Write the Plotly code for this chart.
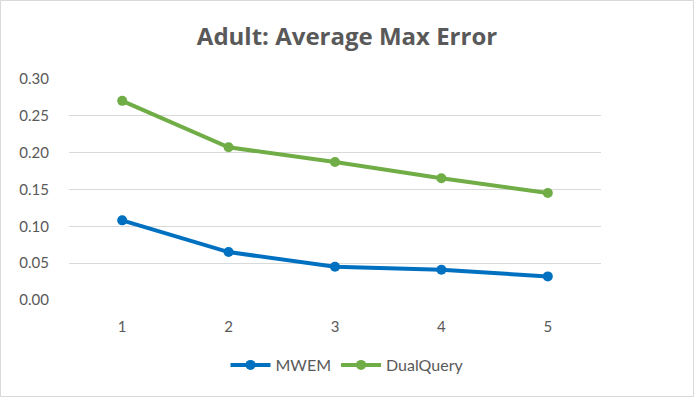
import plotly.graph_objects as go

x_labels = ["1", "2", "3", "4", "5"]
mwem = [0.108, 0.065, 0.045, 0.041, 0.032]
dualquery = [0.270, 0.207, 0.187, 0.165, 0.145]

FONT = "Lato, 'Open Sans', sans-serif"
GREY = "#595959"

W, H = 694, 397
L, R, T, B = 69, 93, 78, 97
PW, PH = W - L - R, H - T - B

fig = go.Figure()

fig.add_trace(go.Scatter(
    x=x_labels, y=mwem, name="MWEM",
    mode="lines+markers",
    line=dict(color="#0070C0", width=4),
    marker=dict(size=10, color="#0070C0"),
))
fig.add_trace(go.Scatter(
    x=x_labels, y=dualquery, name="DualQuery",
    mode="lines+markers",
    line=dict(color="#70AD47", width=4),
    marker=dict(size=10, color="#70AD47"),
))

fig.update_layout(
    width=W, height=H,
    paper_bgcolor="white", plot_bgcolor="white",
    margin=dict(l=L, r=R, t=T, b=B),
    font=dict(family=FONT, color=GREY, size=15),
    title=dict(text="<b>Adult: Average Max Error</b>", x=0.5, xanchor="center",
               xref="container", y=1 - 37 / H, yref="container", yanchor="middle",
               font=dict(size=24, color=GREY, family="'Open Sans', sans-serif")),
    xaxis=dict(type="category", range=[-0.5, 4.5], showgrid=False, showline=False,
               ticks="", tickfont=dict(size=15, color=GREY), zeroline=False,
               ticklabelstandoff=16),
    yaxis=dict(range=[0, 0.301], dtick=0.05, tickformat=".2f", showgrid=True,
               gridcolor="#D9D9D9", gridwidth=1, zeroline=False, showline=False,
               ticks="", ticklabelstandoff=19, tickfont=dict(size=15, color=GREY)),
    legend=dict(orientation="h", x=0.5, xanchor="center", xref="container",
                y=32 / H, yref="container", yanchor="middle",
                font=dict(size=16, color=GREY), itemwidth=40),
    shapes=[dict(type="rect", xref="paper", yref="paper",
                 x0=-(L - 0.5) / PW, x1=1 + (R - 0.5) / PW,
                 y0=-(B - 0.5) / PH, y1=1 + (T - 0.5) / PH,
                 line=dict(color="#D9D9D9", width=1))],
)

fig.write_html("out.html", config={"displayModeBar": False},
               post_script="document.body.style.margin='0';")
